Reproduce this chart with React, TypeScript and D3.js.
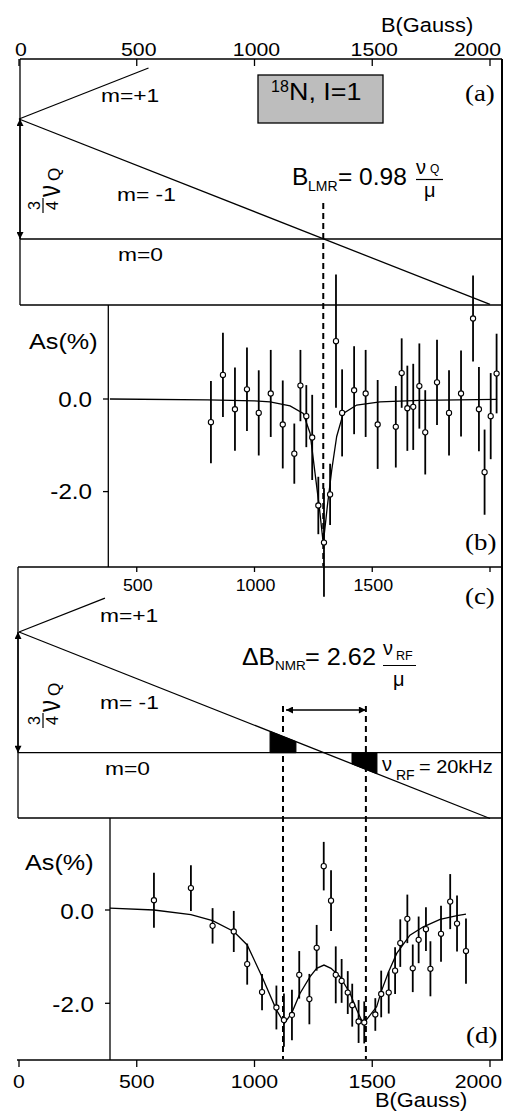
import React from "react";
import * as d3 from "d3";

const SANS = "'Liberation Sans', Arial, Helvetica, sans-serif";
const SERIF = "'Liberation Serif', 'Times New Roman', serif";

// field axis (Gauss)
const fieldTicks = [0, 500, 1000, 1500, 2000];
const innerTicks = [500, 1000, 1500, 2000];
const innerLabels = [500, 1000, 1500];
const asTicks = [0, -2];

// level scheme: energies in units of 3/4 nuQ
const mMinusB = [0, 2000];
const mMinusE = [1, -0.545];
const mPlusAB = [0, 550];
const mPlusAE = [1, 1.425];
const mPlusCB = [0, 365];
const mPlusCE = [1, 1.28];
const lmrField = 1292;
const nmrFields = [1121, 1473];
const rfLow = [1066, 1176];
const rfHigh = [1414, 1520];

// (b) LMR scan
const lmrB = [815, 866, 917, 968, 1018, 1069, 1120, 1169, 1195, 1220, 1245, 1271, 1295, 1321, 1346, 1372, 1423, 1472, 1523, 1600, 1625, 1649, 1674, 1700, 1725, 1775, 1826, 1877, 1928, 1953, 1977, 2003, 2028];
const lmrAs = [-0.5, 0.52, -0.22, 0.21, -0.3, 0.12, -0.55, -1.18, 0.29, -0.37, -0.83, -2.3, -3.1, -2.06, 1.25, -0.3, 0.19, 0.12, -0.55, -0.6, 0.56, -0.2, -0.17, 0.28, -0.72, 0.36, -0.3, 0.12, 1.74, -0.22, -1.58, -0.37, 0.55];
const lmrErr = [0.89, 0.91, 0.9, 0.9, 0.92, 0.94, 0.95, 0.65, 0.77, 0.67, 0.92, 0.62, 1.17, 0.66, 1.44, 0.94, 0.95, 0.94, 0.96, 0.88, 0.75, 0.92, 0.93, 0.92, 0.91, 0.92, 0.92, 0.93, 0.93, 0.91, 0.92, 0.93, 0.86];
const lmrFitB = [386, 800, 1000, 1066, 1151, 1207, 1236, 1257, 1275, 1292, 1309, 1328, 1349, 1377, 1434, 1533, 1700, 2030];
const lmrFitAs = [0, -0.02, -0.04, -0.06, -0.15, -0.31, -0.74, -1.6, -2.33, -3.12, -2.33, -1.53, -0.81, -0.31, -0.13, -0.06, -0.03, -0.01];

// (d) NMR scan
const nmrB = [573, 730, 822, 912, 969, 1032, 1093, 1125, 1159, 1190, 1233, 1264, 1294, 1325, 1345, 1370, 1396, 1415, 1442, 1466, 1513, 1538, 1570, 1597, 1619, 1649, 1672, 1697, 1728, 1747, 1792, 1831, 1860, 1898];
const nmrAs = [0.21, 0.47, -0.34, -0.46, -1.16, -1.76, -2.09, -2.36, -2.25, -1.39, -1.91, -0.81, 0.94, 0.2, -1.39, -1.52, -1.77, -2.04, -2.39, -2.41, -2.24, -1.8, -1.77, -1.3, -0.71, -0.19, -1.25, -0.64, -0.41, -1.26, -0.51, 0.18, -0.29, -0.88];
const nmrErr = [0.59, 0.49, 0.38, 0.44, 0.44, 0.39, 0.47, 0.57, 0.54, 0.51, 0.54, 0.49, 0.52, 0.65, 0.61, 0.47, 0.46, 0.46, 0.46, 0.45, 0.35, 0.5, 0.45, 0.5, 0.51, 0.52, 0.51, 0.5, 0.47, 0.59, 0.6, 0.59, 0.6, 0.7];
const nmrFitB = [386, 573, 730, 822, 912, 969, 1032, 1093, 1127, 1158, 1193, 1236, 1264, 1295, 1325, 1363, 1406, 1434, 1462, 1519, 1538, 1570, 1604, 1660, 1717, 1788, 1860, 1898];
const nmrFitAs = [0.04, 0, -0.1, -0.23, -0.46, -0.75, -1.43, -2.14, -2.43, -2.21, -1.79, -1.43, -1.25, -1.18, -1.25, -1.43, -1.79, -2.14, -2.44, -2.07, -1.75, -1.32, -0.93, -0.54, -0.36, -0.2, -0.12, -0.09];

function T({ x, y, size, children, anchor = "start", sx = 1, sy = 1, family = SANS }: any) {
  return (
    <text transform={`translate(${x},${y}) scale(${sx},${sy})`} fontSize={size} fontFamily={family} textAnchor={anchor} fill="#000">
      {children}
    </text>
  );
}

// rotated 3/4 nuQ label
function QuarterLabel({ cy }: { cy: number }) {
  return (
    <g transform={`translate(43,${cy}) rotate(-90)`}>
      <T x={-16.5} y={-3} size={16} anchor="middle">3</T>
      <line x1={-24} x2={-9} y1={0} y2={0} stroke="#000" strokeWidth={1.2} />
      <T x={-16.5} y={15} size={16} anchor="middle">4</T>
      <T x={-8} y={17} size={24} sy={1.3}>ν</T>
      <T x={8} y={17} size={17}>Q</T>
    </g>
  );
}

function Scan({ B, As, err, fitB, fitAs, x, y }: any) {
  const fit = d3.line<number>().x((_, i) => x(fitB[i])).y((d) => y(d));
  return (
    <g>
      <path d={fit(fitAs) || ""} fill="none" stroke="#000" strokeWidth={1.3} />
      {B.map((b: number, i: number) => (
        <line key={"e" + i} x1={x(b)} x2={x(b)} y1={y(As[i] + err[i])} y2={y(As[i] - err[i])} stroke="#000" strokeWidth={1.8} />
      ))}
      {B.map((b: number, i: number) => (
        <circle key={"c" + i} cx={x(b)} cy={y(As[i])} r={2.6} fill="#fff" stroke="#000" strokeWidth={1.1} />
      ))}
    </g>
  );
}

export default function App() {
  const x = d3.scaleLinear().domain([0, 2000]).range([19, 490]);
  const yA = d3.scaleLinear().domain([0, 1]).range([239, 119]);
  const yC = d3.scaleLinear().domain([0, 1]).range([752.7, 632]);
  const yB = d3.scaleLinear().domain([0, -2]).range([399, 491.6]);
  const yD = d3.scaleLinear().domain([0, -2]).range([910, 1003.3]);
  const mMinus = d3.scaleLinear().domain(mMinusB).range(mMinusE);

  const lvl = (bs: number[], es: number[], ys: any) =>
    d3.line<number>().x((b) => x(b)).y((_, i) => ys(es[i]))(bs) || "";
  const shade = (win: number[]) =>
    d3.area<number>().x((b) => x(b)).y0(yC(0)).y1((b) => yC(mMinus(b)))(win) || "";

  const R = 502;
  const S = { stroke: "#000", strokeWidth: 1.3, fill: "none" };
  const dash = { stroke: "#000", strokeWidth: 2, strokeDasharray: "6,4" };

  return (
    <svg width={515} height={1112} style={{ position: "absolute", left: 0, top: 0, background: "#fff" }}>
      <defs>
        <marker id="ah" viewBox="0 0 10 10" refX={10} refY={5} markerWidth={9} markerHeight={7} markerUnits="userSpaceOnUse" orient="auto-start-reverse">
          <path d="M0,0 L10,5 L0,10 z" fill="#000" />
        </marker>
      </defs>
      <rect width={515} height={1112} fill="#fff" />

      {/* top axis */}
      <T x={381} y={31.5} size={19.5} sx={1.12}>B(Gauss)</T>
      <line x1={20} x2={R} y1={59} y2={59} {...S} />
      {fieldTicks.map((t) => (
        <g key={"tt" + t}>
          <line x1={x(t)} x2={x(t)} y1={59} y2={66} {...S} />
          <T x={t === 2000 ? 501 : x(t) + 2} y={56} size={19} sx={1.12} anchor={t === 2000 ? "end" : "middle"}>{t}</T>
        </g>
      ))}

      {/* panel (a) */}
      <line x1={20} x2={20} y1={59} y2={305} {...S} />
      <line x1={20} x2={R} y1={305} y2={305} {...S} />
      <line x1={20} x2={R} y1={yA(0)} y2={yA(0)} {...S} />
      <path d={lvl(mMinusB, mMinusE, yA)} {...S} />
      <path d={lvl(mPlusAB, mPlusAE, yA)} {...S} />
      <line x1={20} x2={20} y1={yA(1)} y2={yA(0)} stroke="#000" strokeWidth={1.3} markerStart="url(#ah)" markerEnd="url(#ah)" />
      <QuarterLabel cy={189} />
      <T x={101} y={101.5} size={19} sx={1.2}>m=+1</T>
      <T x={117} y={200.5} size={19} sx={1.2}>m= -1</T>
      <T x={118} y={260.5} size={19} sx={1.2}>m=0</T>
      <rect x={258} y={75} width={125} height={48} fill="#bdbdbd" stroke="#000" strokeWidth={1.3} />
      <T x={271} y={92} size={16}>18</T>
      <T x={289} y={100} size={24} sx={1.12}>N, I=1</T>
      <T x={465} y={101} size={24} sx={1.12} family={SERIF}>(a)</T>
      <T x={292} y={185} size={24.5}>B</T>
      <T x={308} y={191} size={14}>LMR</T>
      <T x={338} y={185} size={24.5}>= 0.98</T>
      <T x={416} y={174} size={20}>ν</T>
      <T x={430} y={173} size={12}>Q</T>
      <line x1={416} x2={443} y1={179.5} y2={179.5} stroke="#000" strokeWidth={1.2} />
      <T x={424} y={197} size={20}>μ</T>
      <line x1={x(lmrField)} x2={x(lmrField)} y1={203} y2={566} {...dash} />

      {/* panel (b) */}
      <line x1={108.3} x2={108.3} y1={305} y2={567} {...S} />
      {asTicks.map((t) => (
        <g key={"bt" + t}>
          <line x1={103} x2={108.3} y1={yB(t)} y2={yB(t)} {...S} />
          <T x={92} y={yB(t) + 7.5} size={22} sx={1.1} anchor="end">{t.toFixed(1)}</T>
        </g>
      ))}
      <T x={29} y={349} size={22.5} sx={1.12}>As(%)</T>
      <Scan B={lmrB} As={lmrAs} err={lmrErr} fitB={lmrFitB} fitAs={lmrFitAs} x={x} y={yB} />
      <T x={465} y={550} size={24} sx={1.12} family={SERIF}>(b)</T>

      {/* panel (c) */}
      <line x1={18} x2={R} y1={567} y2={567} {...S} />
      <line x1={18} x2={18} y1={567} y2={818} {...S} />
      <line x1={18} x2={R} y1={818} y2={818} {...S} />
      {innerTicks.map((t) => (
        <line key={"ct" + t} x1={x(t)} x2={x(t)} y1={567} y2={572} {...S} />
      ))}
      {innerLabels.map((t) => (
        <T key={"cl" + t} x={x(t) + 1} y={591} size={16.5} sx={1.08} anchor="middle">{t}</T>
      ))}
      <T x={465} y={604} size={24} sx={1.12} family={SERIF}>(c)</T>
      <line x1={18} x2={R} y1={yC(0)} y2={yC(0)} {...S} />
      <path d={lvl(mMinusB, mMinusE, yC)} {...S} />
      <path d={lvl(mPlusCB, mPlusCE, yC)} {...S} />
      <path d={shade(rfLow)} fill="#000" stroke="#000" strokeWidth={1} />
      <path d={shade(rfHigh)} fill="#000" stroke="#000" strokeWidth={1} />
      <line x1={18} x2={18} y1={yC(1)} y2={yC(0)} stroke="#000" strokeWidth={1.3} markerStart="url(#ah)" markerEnd="url(#ah)" />
      <QuarterLabel cy={704} />
      <T x={100} y={621.5} size={19} sx={1.2}>m=+1</T>
      <T x={100} y={709} size={19} sx={1.2}>m= -1</T>
      <T x={105} y={775} size={19} sx={1.2}>m=0</T>
      <T x={242} y={665} size={23} sx={1.08}>ΔB</T>
      <T x={275} y={670} size={13.5}>NMR</T>
      <T x={305} y={665} size={23} sx={1.1}>= 2.62</T>
      <T x={383} y={655} size={20}>ν</T>
      <T x={396} y={660} size={12.5}>RF</T>
      <line x1={383} x2={416} y1={665.5} y2={665.5} stroke="#000" strokeWidth={1.2} />
      <T x={393} y={686} size={20}>μ</T>
      <line x1={x(nmrFields[0]) + 3} x2={x(nmrFields[1])} y1={710} y2={710} stroke="#000" strokeWidth={1.3} markerStart="url(#ah)" markerEnd="url(#ah)" />
      {nmrFields.map((f) => (
        <line key={"nf" + f} x1={x(f)} x2={x(f)} y1={706} y2={1059} {...dash} />
      ))}
      <T x={382} y={771} size={20}>ν</T>
      <T x={396} y={780} size={14}>RF</T>
      <T x={419} y={773} size={19} sx={1.05}>= 20kHz</T>

      {/* panel (d) */}
      <line x1={110} x2={110} y1={818} y2={1060} {...S} />
      {asTicks.map((t) => (
        <g key={"dt" + t}>
          <line x1={105} x2={110} y1={yD(t)} y2={yD(t)} {...S} />
          <T x={94} y={yD(t) + 8.5} size={22} sx={1.1} anchor="end">{t.toFixed(1)}</T>
        </g>
      ))}
      <T x={25} y={870} size={22.5} sx={1.12}>As(%)</T>
      <Scan B={nmrB} As={nmrAs} err={nmrErr} fitB={nmrFitB} fitAs={nmrFitAs} x={x} y={yD} />
      <T x={466} y={1043} size={24} sx={1.12} family={SERIF}>(d)</T>

      {/* bottom axis */}
      <line x1={17} x2={503} y1={1060} y2={1060} {...S} />
      {fieldTicks.map((t) => (
        <g key={"bb" + t}>
          <line x1={x(t)} x2={x(t)} y1={1060} y2={1067} {...S} />
          <T x={t === 2000 ? 502 : x(t)} y={1088} size={19} sx={1.12} anchor={t === 2000 ? "end" : "middle"}>{t}</T>
        </g>
      ))}
      <T x={375} y={1106.5} size={19.5} sx={1.12}>B(Gauss)</T>

      {/* right frame */}
      <line x1={R} x2={R} y1={59} y2={1060} stroke="#000" strokeWidth={2} />
    </svg>
  );
}
